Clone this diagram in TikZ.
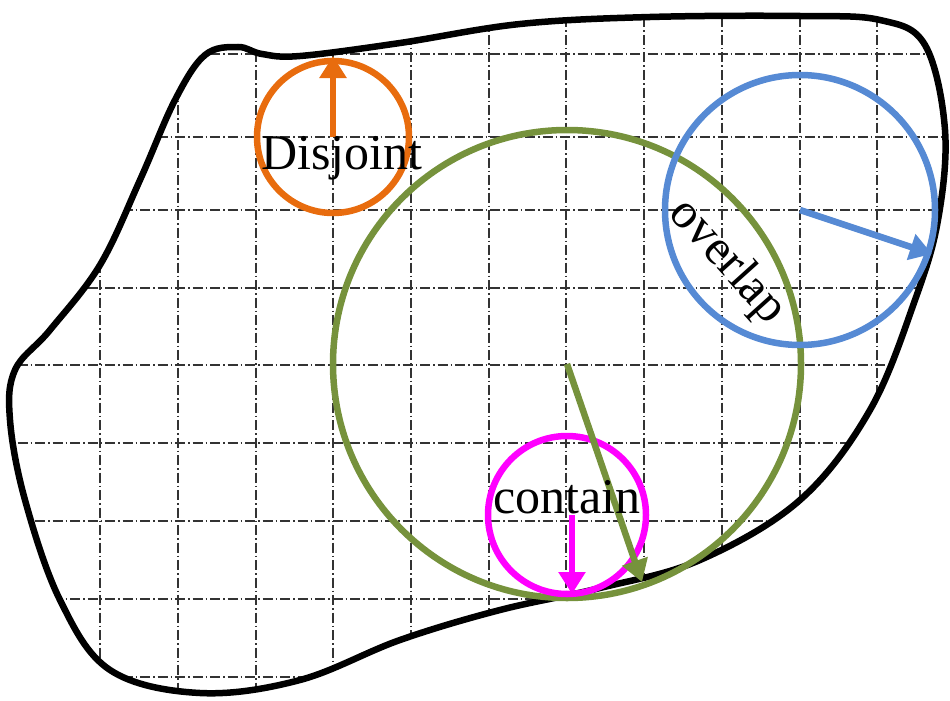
\documentclass[tikz,border=0pt]{standalone}
\usepackage{fontspec}
\setmainfont{Liberation Serif}
\usetikzlibrary{arrows.meta}
\definecolor{corange}{RGB}{232,108,14}
\definecolor{cgreen}{RGB}{118,146,60}
\definecolor{cblue}{RGB}{86,138,212}
\definecolor{cmag}{RGB}{255,0,255}
\begin{document}
\begin{tikzpicture}[x=1pt,y=-1pt,
  gridln/.style={black!80,line width=1.3pt,dash pattern=on 10pt off 3pt on 1.5pt off 3pt},
  ring/.style={line width=6.5pt},
  arr/.style={line width=6.5pt,-{Triangle[length=22pt,width=26pt]}},
  lbl/.style={font=\fontsize{50}{50}\selectfont,inner sep=0pt}]
\useasboundingbox (0,0) rectangle (950,701);
\def\blob{plot[smooth cycle,tension=0.6] coordinates{(238,47) (262,54) (300,56) (400,43) (520,24) (650,17) (800,16) (880,20) (925,45) (945,130) (938,220) (915,300) (870,410) (800,500) (700,560) (600,588) (500,610) (400,640) (300,680) (200,693) (110,670) (60,600) (25,500) (10,420) (15,370) (50,330) (100,265) (140,180) (175,100) (205,55)}}
\begin{scope}
\clip \blob;
\foreach \x in {100,178,256,333,411,489,566,644,722,800,877} \draw[gridln] (\x,0) -- (\x,701);
\foreach \y in {54,137,210,288,365,443,521,599,677} \draw[gridln] (0,\y) -- (950,\y);
\end{scope}
\draw[line width=6.5pt] \blob;
\coordinate (oc) at (333,137);
\coordinate (gc) at (567,364);
\coordinate (bc) at (800,210);
\coordinate (mc) at (567,515);
\coordinate (ms) at (572,515);
\draw[ring,corange] (oc) circle (76);
\draw[ring,cgreen] (gc) circle (234);
\draw[ring,cblue] (bc) circle (135);
\draw[ring,cmag] (mc) circle (79);
\coordinate (oe) at (333,56);
\coordinate (ge) at (642,582);
\coordinate (be) at (932,254);
\coordinate (me) at (572,594);
\draw[arr,corange] (oc) -- (oe);
\draw[arr,cgreen] (gc) -- (ge);
\draw[arr,cblue] (bc) -- (be);
\draw[arr,cmag] (ms) -- (me);
\node[lbl] (t1) at (342,158) {Disjoint};
\node[lbl,rotate=-48] (t2) at (727,262) {overlap};
\node[lbl] (t3) at (567,497) {contain};
\end{tikzpicture}
\end{document}
